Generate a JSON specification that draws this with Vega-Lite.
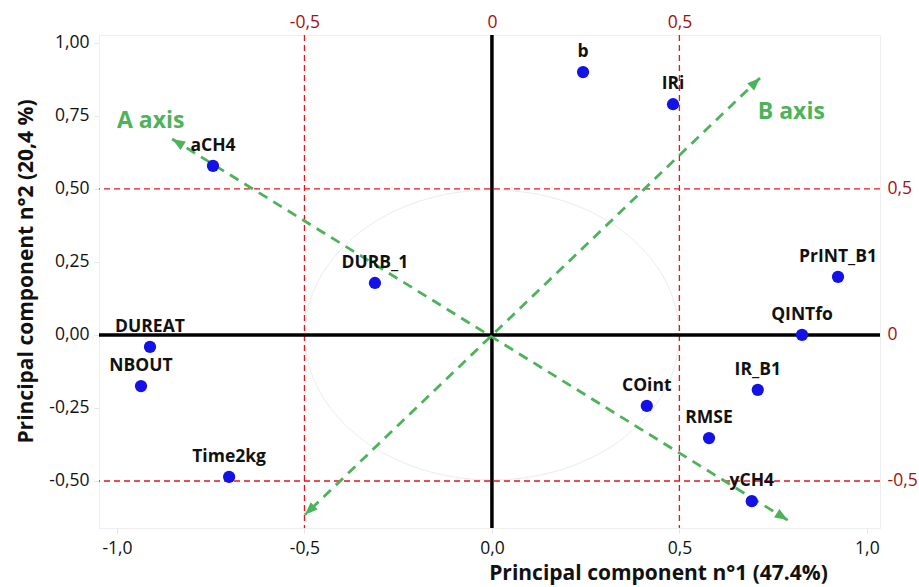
{
  "$schema": "https://vega.github.io/schema/vega-lite/v6.json",
  "width": 781,
  "height": 493,
  "autosize": {"type": "none"},
  "padding": {"left": 99, "top": 35, "right": 39, "bottom": 59},
  "background": "white",
  "config": {
    "font": "Open Sans",
    "view": {"stroke": "#eeeeee", "strokeWidth": 1},
    "locale": {"number": {"decimal": ",", "thousands": ".", "grouping": [3], "currency": ["", " €"], "minus": "-"}},
    "axis": {"grid": false, "labelFont": "Open Sans", "labelFontSize": 17.5, "labelColor": "#111111", "titleFont": "Open Sans", "titleFontSize": 21, "titleFontWeight": "bold", "titleColor": "#111111", "domainColor": "#eeeeee", "tickColor": "#e4e4e4", "tickSize": 5}
  },
  "datasets": {
    "pts": [
      {"name": "b", "pc1": 0.243, "pc2": 0.90},
      {"name": "IRi", "pc1": 0.483, "pc2": 0.79},
      {"name": "aCH4", "pc1": -0.744, "pc2": 0.579},
      {"name": "DURB_1", "pc1": -0.312, "pc2": 0.178},
      {"name": "PrINT_B1", "pc1": 0.923, "pc2": 0.199},
      {"name": "QINTfo", "pc1": 0.827, "pc2": 0.0},
      {"name": "DUREAT", "pc1": -0.912, "pc2": -0.041},
      {"name": "NBOUT", "pc1": -0.936, "pc2": -0.175},
      {"name": "Time2kg", "pc1": -0.701, "pc2": -0.486},
      {"name": "COint", "pc1": 0.413, "pc2": -0.243},
      {"name": "IR_B1", "pc1": 0.709, "pc2": -0.188},
      {"name": "RMSE", "pc1": 0.579, "pc2": -0.353},
      {"name": "yCH4", "pc1": 0.693, "pc2": -0.569}
    ],
    "arrows": [
      {"axis": "A", "end": "A1", "pc1": -0.853, "pc2": 0.671},
      {"axis": "A", "end": "A2", "pc1": 0.789, "pc2": -0.634},
      {"axis": "B", "end": "B1", "pc1": 0.715, "pc2": 0.88},
      {"axis": "B", "end": "B2", "pc1": -0.499, "pc2": -0.616}
    ],
    "axlabels": [
      {"label": "A axis", "pc1": -1.0, "pc2": 0.733},
      {"label": "B axis", "pc1": 0.709, "pc2": 0.764}
    ],
    "vlines": [{"v": -0.5}, {"v": 0.5}],
    "hlines": [{"v": 0.5}, {"v": -0.5}]
  },
  "resolve": {"axis": {"x": "independent", "y": "independent"}},
  "layer": [
    {
      "data": {"values": [{"c": 0}]},
      "mark": {"type": "point", "shape": "M-1.29,0 A1.29,1 0 1,0 1.29,0 A1.29,1 0 1,0 -1.29,0 Z", "size": 84100, "filled": false, "stroke": "#ececec", "strokeWidth": 1, "opacity": 1},
      "encoding": {
        "x": {"datum": 0, "type": "quantitative", "scale": {"domain": [-1.048, 1.035], "nice": false, "zero": false}, "axis": null},
        "y": {"datum": 0, "type": "quantitative", "scale": {"domain": [-0.661, 1.027], "nice": false, "zero": false}, "axis": null}
      }
    },
    {
      "data": {"name": "vlines"},
      "mark": {"type": "rule", "color": "#e8141c", "strokeWidth": 1.3, "strokeDash": [6, 4]},
      "encoding": {
        "x": {"field": "v", "type": "quantitative", "scale": {"domain": [-1.048, 1.035], "nice": false, "zero": false},
          "axis": {"orient": "top", "values": [-0.5, 0, 0.5], "format": ".1~f", "title": null, "labelColor": "#a50f0f", "labelFontSize": 17.5, "domain": false, "ticks": false, "labelPadding": 4}}
      }
    },
    {
      "data": {"name": "hlines"},
      "mark": {"type": "rule", "color": "#e8141c", "strokeWidth": 1.3, "strokeDash": [6, 4]},
      "encoding": {
        "y": {"field": "v", "type": "quantitative", "scale": {"domain": [-0.661, 1.027], "nice": false, "zero": false},
          "axis": {"orient": "right", "values": [-0.5, 0, 0.5], "format": ".1~f", "title": null, "labelColor": "#a50f0f", "labelFontSize": 17.5, "domain": false, "ticks": false, "labelPadding": 7}}
      }
    },
    {
      "data": {"values": [{"c": 0}]},
      "mark": {"type": "rule", "color": "#000000", "strokeWidth": 3.5},
      "encoding": {"x": {"datum": 0, "type": "quantitative", "axis": null}}
    },
    {
      "data": {"values": [{"c": 0}]},
      "mark": {"type": "rule", "color": "#000000", "strokeWidth": 3.5},
      "encoding": {"y": {"datum": 0, "type": "quantitative", "axis": null}}
    },
    {
      "data": {"name": "arrows"},
      "mark": {"type": "line", "color": "#4db35a", "strokeWidth": 2.8, "strokeDash": [10, 7]},
      "encoding": {
        "x": {"field": "pc1", "type": "quantitative", "axis": null},
        "y": {"field": "pc2", "type": "quantitative", "axis": null},
        "detail": {"field": "axis"},
        "order": {"field": "end"}
      }
    },
    {
      "data": {"name": "arrows"},
      "transform": [{"filter": "datum.end === 'A1'"}],
      "mark": {"type": "point", "shape": "M0,0 L-1,2.6 L1,2.6 Z", "size": 100, "filled": true, "color": "#4db35a", "opacity": 1, "angle": 301.5},
      "encoding": {"x": {"field": "pc1", "type": "quantitative", "axis": null}, "y": {"field": "pc2", "type": "quantitative", "axis": null}}
    },
    {
      "data": {"name": "arrows"},
      "transform": [{"filter": "datum.end === 'A2'"}],
      "mark": {"type": "point", "shape": "M0,0 L-1,2.6 L1,2.6 Z", "size": 100, "filled": true, "color": "#4db35a", "opacity": 1, "angle": 122},
      "encoding": {"x": {"field": "pc1", "type": "quantitative", "axis": null}, "y": {"field": "pc2", "type": "quantitative", "axis": null}}
    },
    {
      "data": {"name": "arrows"},
      "transform": [{"filter": "datum.end === 'B1'"}],
      "mark": {"type": "point", "shape": "M0,0 L-1,2.6 L1,2.6 Z", "size": 100, "filled": true, "color": "#4db35a", "opacity": 1, "angle": 46},
      "encoding": {"x": {"field": "pc1", "type": "quantitative", "axis": null}, "y": {"field": "pc2", "type": "quantitative", "axis": null}}
    },
    {
      "data": {"name": "arrows"},
      "transform": [{"filter": "datum.end === 'B2'"}],
      "mark": {"type": "point", "shape": "M0,0 L-1,2.6 L1,2.6 Z", "size": 100, "filled": true, "color": "#4db35a", "opacity": 1, "angle": 226},
      "encoding": {"x": {"field": "pc1", "type": "quantitative", "axis": null}, "y": {"field": "pc2", "type": "quantitative", "axis": null}}
    },
    {
      "data": {"name": "axlabels"},
      "mark": {"type": "text", "color": "#4db35a", "fontSize": 23, "fontWeight": "bold", "align": "left", "baseline": "middle"},
      "encoding": {"x": {"field": "pc1", "type": "quantitative", "axis": null}, "y": {"field": "pc2", "type": "quantitative", "axis": null}, "text": {"field": "label"}}
    },
    {
      "data": {"name": "pts"},
      "mark": {"type": "point", "filled": true, "size": 150, "color": "#1212e8", "opacity": 1},
      "encoding": {
        "x": {"field": "pc1", "type": "quantitative", "scale": {"domain": [-1.048, 1.035], "nice": false, "zero": false},
          "axis": {"orient": "bottom", "values": [-1, -0.5, 0, 0.5, 1], "format": ".1f", "title": "Principal component n°1  (47.4%)", "labelPadding": 6, "titlePadding": 6, "titleX": 559, "titleAlign": "center"}},
        "y": {"field": "pc2", "type": "quantitative", "scale": {"domain": [-0.661, 1.027], "nice": false, "zero": false},
          "axis": {"orient": "left", "values": [-0.5, -0.25, 0, 0.25, 0.5, 0.75, 1], "format": ".2f", "title": "Principal component n°2 (20,4 %)", "labelPadding": 5, "titlePadding": 12, "titleY": 236, "titleAlign": "center"}}
      }
    },
    {
      "data": {"name": "pts"},
      "mark": {"type": "text", "fontSize": 17.5, "fontWeight": "bold", "color": "#111111", "dy": -20, "baseline": "middle", "align": "center"},
      "encoding": {
        "x": {"field": "pc1", "type": "quantitative", "axis": null},
        "y": {"field": "pc2", "type": "quantitative", "axis": null},
        "text": {"field": "name"}
      }
    }
  ]
}
